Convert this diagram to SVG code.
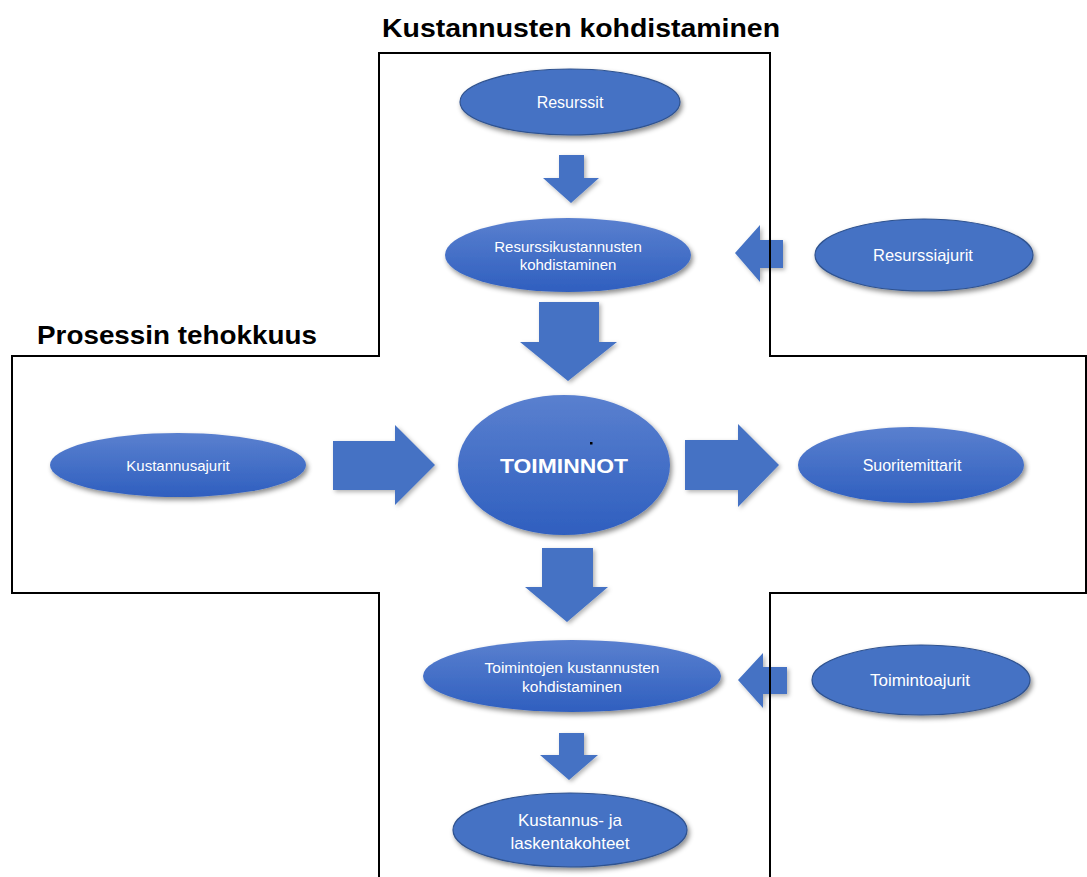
<svg xmlns="http://www.w3.org/2000/svg" width="1087" height="877" viewBox="0 0 1087 877">
<defs>
<linearGradient id="grad" x1="0" y1="0" x2="0" y2="1">
<stop offset="0" stop-color="#5A80CF"/>
<stop offset="1" stop-color="#2F5FBF"/>
</linearGradient>
<filter id="sh" x="-20%" y="-20%" width="140%" height="150%">
<feDropShadow dx="2" dy="3" stdDeviation="2.5" flood-color="#000" flood-opacity="0.45"/>
</filter>
<filter id="sha" x="-20%" y="-20%" width="150%" height="150%">
<feDropShadow dx="2" dy="2" stdDeviation="2" flood-color="#000" flood-opacity="0.3"/>
</filter>
</defs>
<style>
.title{font-family:"Liberation Sans",Arial,sans-serif;font-weight:bold;font-size:26px;fill:#000}
.flat{fill:#4472C4;stroke:#2F528F;stroke-width:1.2;filter:url(#sh)}
.grad{fill:url(#grad);filter:url(#sh)}
.lbl{font-family:"Liberation Sans",Arial,sans-serif;fill:#fff;text-anchor:middle;dominant-baseline:central}
.s15{font-size:15px}
.s17{font-size:17px}
.arrow{fill:#4472C4;filter:url(#sha)}
.frame{fill:none;stroke:#000;stroke-width:2}
</style>
<rect width="1087" height="877" fill="#fff"/>
<text class="title" x="382" y="37" textLength="398" lengthAdjust="spacingAndGlyphs">Kustannusten kohdistaminen</text>
<text class="title" x="37" y="344" textLength="280" lengthAdjust="spacingAndGlyphs">Prosessin tehokkuus</text>
<g id="connectors">
<polygon class="arrow" points="559,155 584,155 584,178 599,178 571,203 543,178 559,178"/>
<polygon class="arrow" points="539,302 599,302 599,342 617,342 568,381 520,342 539,342"/>
<polygon class="arrow" points="542,548 593,548 593,587 608,587 567,622 525,587 542,587"/>
<polygon class="arrow" points="559,733 584,733 584,755 598,755 569,780 540,755 559,755"/>
<polygon class="arrow" points="333,441 395,441 395,425 435,465 395,505 395,490 333,490"/>
<polygon class="arrow" points="685,440 738,440 738,424 779,465 738,507 738,490 685,490"/>
<polygon class="arrow" points="783,240 760,240 760,225 735,253 760,282 760,268 783,268"/>
<polygon class="arrow" points="787,667 763,667 763,653 738,680 763,708 763,694 787,694"/>
</g>
<g id="resurssit">
<ellipse class="flat" cx="570" cy="102" rx="110" ry="33"/>
<text class="lbl" x="570" y="102" font-size="16">Resurssit</text>
</g>
<g id="resurssikustannusten">
<ellipse class="grad" cx="568" cy="255" rx="123" ry="37"/>
<text class="lbl s15" x="568" y="246">Resurssikustannusten</text>
<text class="lbl s15" x="568" y="264">kohdistaminen</text>
</g>
<g id="resurssiajurit">
<ellipse class="flat" cx="924" cy="255" rx="109" ry="36"/>
<text class="lbl" x="923" y="255" font-size="16.5">Resurssiajurit</text>
</g>
<g id="kustannusajurit">
<ellipse class="grad" cx="178" cy="465" rx="128" ry="32"/>
<text class="lbl s15" x="178" y="465">Kustannusajurit</text>
</g>
<g id="toiminnot">
<ellipse class="grad" cx="564" cy="465" rx="106" ry="70"/>
<text class="lbl" x="564" y="465" font-size="21" font-weight="bold" textLength="128" lengthAdjust="spacingAndGlyphs">TOIMINNOT</text>
<rect x="590" y="442" width="2.5" height="2.5" fill="#000"/>
</g>
<g id="suoritemittarit">
<ellipse class="grad" cx="911" cy="465" rx="113" ry="38"/>
<text class="lbl" x="912" y="465" font-size="16">Suoritemittarit</text>
</g>
<g id="toimintojen">
<ellipse class="grad" cx="572" cy="676" rx="149" ry="36"/>
<text class="lbl" x="572" y="667" font-size="15.5">Toimintojen kustannusten</text>
<text class="lbl" x="572" y="686" font-size="15.5">kohdistaminen</text>
</g>
<g id="toimintoajurit">
<ellipse class="flat" cx="921" cy="680" rx="109" ry="35"/>
<text class="lbl s17" x="920" y="680">Toimintoajurit</text>
</g>
<g id="kohteet">
<ellipse class="flat" cx="570" cy="830" rx="117" ry="37"/>
<text class="lbl s17" x="570" y="820">Kustannus- ja</text>
<text class="lbl s17" x="570" y="843">laskentakohteet</text>
</g>
<path class="frame" d="M379,877 V593 H12 V356 H379 V53 H770 V356 H1086 V593 H770 V877"/>
</svg>
